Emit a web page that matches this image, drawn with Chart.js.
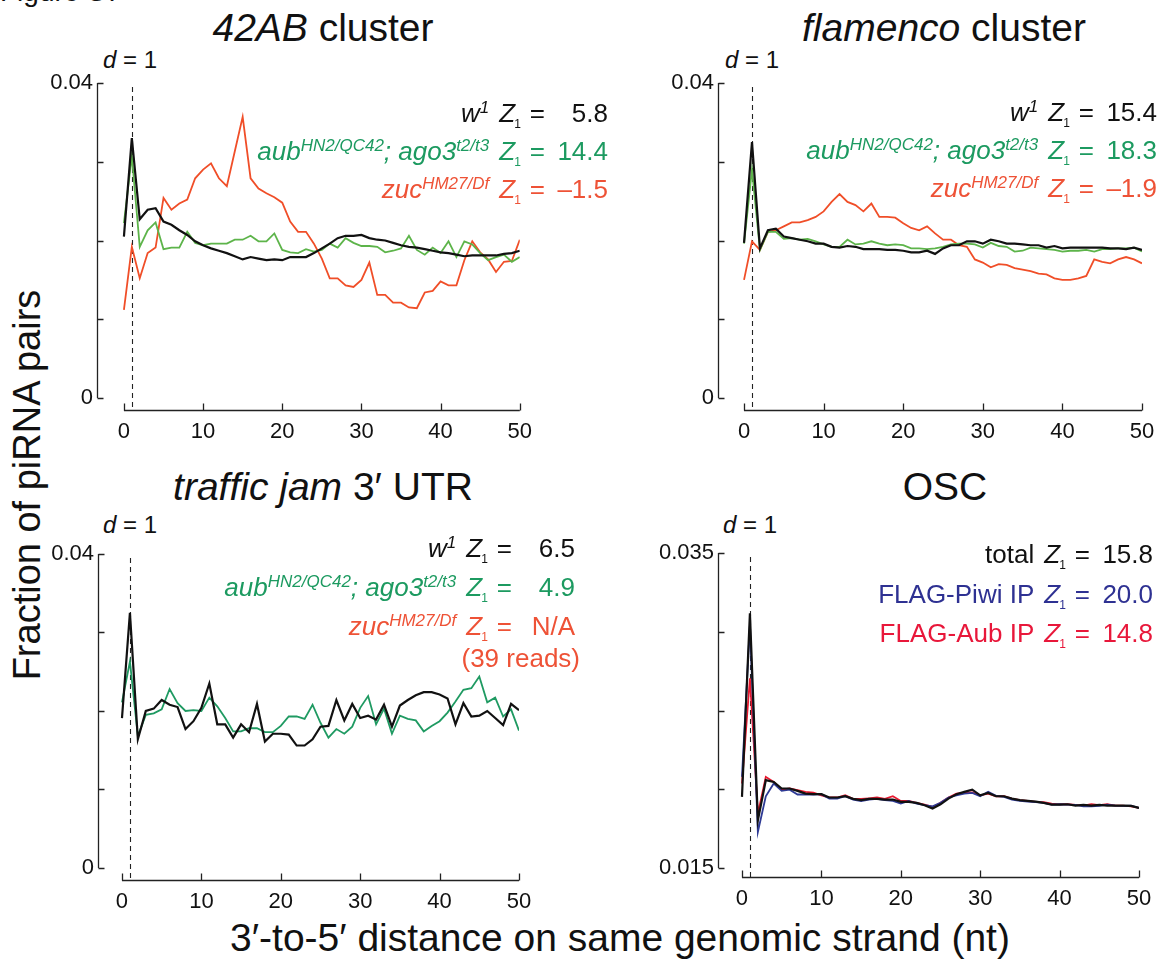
<!DOCTYPE html>
<html>
<head>
<meta charset="utf-8">
<title>piRNA phasing</title>
<script src="https://cdn.jsdelivr.net/npm/chart.js@4.4.1/dist/chart.umd.min.js"></script>
<style>
  body { margin: 0; background: #fff; width: 1163px; height: 966px; position: relative; overflow: hidden;
         font-family: 'Liberation Sans', Arial, Helvetica, sans-serif; color: #111; }
  canvas { position: absolute; }
  .txt { position: absolute; white-space: nowrap; }
  .title { font-size: 39px; line-height: 38px; width: 600px; text-align: center; }
  .dlab { font-size: 24px; line-height: 24px; width: 100px; text-align: center; }
  .row { position: absolute; display: flex; align-items: baseline; font-size: 26px; line-height: 38px; white-space: nowrap; }
  .row .z { margin-left: 10px; }
  .row .eq { margin-left: 9px; }
  .row .val { width: 63px; text-align: right; }
  sup { font-size: 17px; vertical-align: 9px; line-height: 0; }
  sub { font-size: 12px; vertical-align: -6px; line-height: 0; margin-left: -1px; }
</style>
</head>
<body>
<div class="txt" style="left:0px; top:-24px; font-size:28px;">Figure S7</div>

<div class="txt title" style="left:23px; top:9px;"><i>42AB</i> cluster</div>
<div class="txt title" style="left:644px; top:9px;"><i>flamenco</i> cluster</div>
<div class="txt title" style="left:23px; top:468px;"><i>traffic jam</i> 3&#8242; UTR</div>
<div class="txt title" style="left:645px; top:468px;">OSC</div>

<div class="txt dlab" style="left:80px; top:48px;"><i>d</i> = 1</div>
<div class="txt dlab" style="left:702px; top:48px;"><i>d</i> = 1</div>
<div class="txt dlab" style="left:80px; top:513px;"><i>d</i> = 1</div>
<div class="txt dlab" style="left:700px; top:513px;"><i>d</i> = 1</div>

<div class="txt" style="left:-273px; top:465px; width:600px; text-align:center; font-size:38px; line-height:40px; transform:rotate(-90deg);">Fraction of piRNA pairs</div>
<div class="txt" style="left:220px; top:918px; width:800px; text-align:center; font-size:39px; line-height:40px;">3&#8242;-to-5&#8242; distance on same genomic strand (nt)</div>

<canvas id="c42" width="510" height="401" style="left:30px; top:60px;"></canvas>
<canvas id="cflam" width="513" height="401" style="left:650px; top:60px;"></canvas>
<canvas id="ctj" width="510" height="401" style="left:30px; top:530px;"></canvas>
<canvas id="cosc" width="513" height="398" style="left:650px; top:530px;"></canvas>

<script>
// 3'-to-5' distance (nt)
const distance = [0, 1, 2, 3, 4, 5, 6, 7, 8, 9, 10, 11, 12, 13, 14, 15, 16, 17, 18, 19, 20,
  21, 22, 23, 24, 25, 26, 27, 28, 29, 30, 31, 32, 33, 34, 35, 36, 37, 38, 39, 40,
  41, 42, 43, 44, 45, 46, 47, 48, 49, 50];
const xTickValues = [0, 10, 20, 30, 40, 50];
const yTicksFly = [0, 0.01, 0.02, 0.03, 0.04];
const yLabelsFly = [0, 0.04];
const yTicksOsc = [0.015, 0.02, 0.025, 0.03, 0.035];
const yLabelsOsc = [0.015, 0.035];

// 42AB cluster
const ab42_w1 = [0.0205, 0.0330, 0.0227, 0.0239, 0.0241, 0.0224, 0.0220, 0.0213, 0.0207, 0.0199, 0.0194,
  0.0190, 0.0187, 0.0184, 0.0180, 0.0176, 0.0179, 0.0177, 0.0175, 0.0176, 0.0175,
  0.0179, 0.0179, 0.0179, 0.0184, 0.0190, 0.0196, 0.0203, 0.0206, 0.0206, 0.0207,
  0.0203, 0.0201, 0.0200, 0.0197, 0.0194, 0.0192, 0.0191, 0.0189, 0.0187, 0.0185,
  0.0184, 0.0182, 0.0180, 0.0181, 0.0181, 0.0181, 0.0181, 0.0183, 0.0184, 0.0187];
const ab42_aub = [0.0222, 0.0307, 0.0192, 0.0213, 0.0223, 0.0189, 0.0191, 0.0191, 0.0211, 0.0197, 0.0194,
  0.0196, 0.0196, 0.0196, 0.0201, 0.0201, 0.0206, 0.0199, 0.0199, 0.0209, 0.0188,
  0.0185, 0.0184, 0.0189, 0.0186, 0.0188, 0.0196, 0.0191, 0.0203, 0.0197, 0.0193,
  0.0193, 0.0192, 0.0185, 0.0187, 0.0190, 0.0206, 0.0188, 0.0182, 0.0191, 0.0184,
  0.0199, 0.0179, 0.0199, 0.0195, 0.0184, 0.0175, 0.0179, 0.0182, 0.0173, 0.0179];
const ab42_zuc = [0.0112, 0.0192, 0.0152, 0.0184, 0.0191, 0.0254, 0.0239, 0.0247, 0.0252, 0.0279, 0.0290,
  0.0298, 0.0279, 0.0269, 0.0313, 0.0357, 0.0279, 0.0266, 0.0260, 0.0255, 0.0248,
  0.0224, 0.0211, 0.0211, 0.0196, 0.0177, 0.0152, 0.0152, 0.0143, 0.0141, 0.0150,
  0.0172, 0.0131, 0.0131, 0.0121, 0.0121, 0.0115, 0.0114, 0.0134, 0.0136, 0.0148,
  0.0143, 0.0143, 0.0175, 0.0199, 0.0185, 0.0176, 0.0160, 0.0173, 0.0174, 0.0201];

// flamenco cluster
const flam_w1 = [0.0197, 0.0325, 0.0190, 0.0213, 0.0215, 0.0205, 0.0203, 0.0201, 0.0199, 0.0196, 0.0196,
  0.0192, 0.0191, 0.0193, 0.0192, 0.0189, 0.0189, 0.0189, 0.0188, 0.0188, 0.0187,
  0.0185, 0.0185, 0.0187, 0.0183, 0.0190, 0.0194, 0.0194, 0.0199, 0.0199, 0.0196,
  0.0201, 0.0199, 0.0196, 0.0196, 0.0195, 0.0194, 0.0194, 0.0191, 0.0193, 0.0190,
  0.0191, 0.0191, 0.0191, 0.0191, 0.0191, 0.0190, 0.0190, 0.0189, 0.0191, 0.0188];
const flam_aub = [0.0196, 0.0290, 0.0188, 0.0211, 0.0211, 0.0202, 0.0203, 0.0201, 0.0202, 0.0199, 0.0195,
  0.0192, 0.0192, 0.0201, 0.0195, 0.0196, 0.0199, 0.0196, 0.0194, 0.0195, 0.0194,
  0.0190, 0.0190, 0.0189, 0.0190, 0.0192, 0.0195, 0.0196, 0.0196, 0.0195, 0.0191,
  0.0197, 0.0193, 0.0192, 0.0186, 0.0187, 0.0191, 0.0190, 0.0189, 0.0188, 0.0186,
  0.0187, 0.0187, 0.0188, 0.0186, 0.0189, 0.0189, 0.0190, 0.0190, 0.0191, 0.0186];
const flam_zuc = [0.0150, 0.0199, 0.0188, 0.0211, 0.0213, 0.0218, 0.0223, 0.0223, 0.0226, 0.0230, 0.0237,
  0.0249, 0.0259, 0.0249, 0.0245, 0.0237, 0.0247, 0.0230, 0.0230, 0.0229, 0.0222,
  0.0216, 0.0213, 0.0218, 0.0209, 0.0201, 0.0201, 0.0194, 0.0192, 0.0176, 0.0172,
  0.0166, 0.0170, 0.0169, 0.0165, 0.0163, 0.0161, 0.0158, 0.0157, 0.0152, 0.0150,
  0.0150, 0.0152, 0.0155, 0.0176, 0.0173, 0.0171, 0.0176, 0.0179, 0.0176, 0.0171];

// traffic jam 3' UTR (zuc: N/A, 39 reads)
const tj_w1 = [0.0191, 0.0325, 0.0164, 0.0200, 0.0203, 0.0214, 0.0208, 0.0205, 0.0177, 0.0187, 0.0204,
  0.0235, 0.0183, 0.0183, 0.0166, 0.0183, 0.0173, 0.0209, 0.0161, 0.0171, 0.0171,
  0.0170, 0.0156, 0.0156, 0.0164, 0.0180, 0.0181, 0.0214, 0.0188, 0.0209, 0.0191,
  0.0194, 0.0189, 0.0208, 0.0180, 0.0207, 0.0214, 0.0220, 0.0224, 0.0224, 0.0221,
  0.0216, 0.0183, 0.0210, 0.0193, 0.0194, 0.0200, 0.0191, 0.0182, 0.0209, 0.0201];
const tj_aub = [0.0211, 0.0263, 0.0168, 0.0195, 0.0197, 0.0202, 0.0228, 0.0210, 0.0200, 0.0201, 0.0200,
  0.0217, 0.0206, 0.0191, 0.0174, 0.0174, 0.0178, 0.0178, 0.0173, 0.0173, 0.0181,
  0.0193, 0.0193, 0.0190, 0.0208, 0.0185, 0.0166, 0.0177, 0.0171, 0.0180, 0.0204,
  0.0219, 0.0183, 0.0203, 0.0171, 0.0194, 0.0190, 0.0188, 0.0174, 0.0181, 0.0187,
  0.0198, 0.0212, 0.0227, 0.0229, 0.0244, 0.0211, 0.0217, 0.0193, 0.0202, 0.0175];

// OSC
const osc_total = [0.01952, 0.03118, 0.01803, 0.02058, 0.02047, 0.02005, 0.02005, 0.01990, 0.01973, 0.01969, 0.01969,
  0.01948, 0.01948, 0.01956, 0.01939, 0.01931, 0.01939, 0.01939, 0.01935, 0.01935, 0.01920,
  0.01920, 0.01914, 0.01899, 0.01878, 0.01905, 0.01941, 0.01969, 0.01984, 0.01998, 0.01962,
  0.01977, 0.01956, 0.01956, 0.01941, 0.01931, 0.01926, 0.01922, 0.01914, 0.01903, 0.01903,
  0.01905, 0.01897, 0.01901, 0.01897, 0.01901, 0.01897, 0.01897, 0.01897, 0.01895, 0.01882];
const osc_piwi = [0.02079, 0.03044, 0.01729, 0.01956, 0.02037, 0.01990, 0.01998, 0.01967, 0.01967, 0.01967, 0.01969,
  0.01941, 0.01941, 0.01956, 0.01935, 0.01926, 0.01935, 0.01939, 0.01931, 0.01926, 0.01909,
  0.01926, 0.01909, 0.01899, 0.01892, 0.01914, 0.01948, 0.01962, 0.01973, 0.01977, 0.01956,
  0.01984, 0.01958, 0.01952, 0.01935, 0.01926, 0.01922, 0.01918, 0.01914, 0.01903, 0.01905,
  0.01903, 0.01901, 0.01892, 0.01892, 0.01895, 0.01903, 0.01897, 0.01895, 0.01897, 0.01882];
const osc_aub = [0.02037, 0.02705, 0.01846, 0.02079, 0.02047, 0.01998, 0.02005, 0.01994, 0.01984, 0.01979, 0.01962,
  0.01948, 0.01948, 0.01962, 0.01939, 0.01939, 0.01943, 0.01948, 0.01939, 0.01956, 0.01926,
  0.01926, 0.01914, 0.01903, 0.01888, 0.01914, 0.01948, 0.01973, 0.01979, 0.01981, 0.01962,
  0.01973, 0.01956, 0.01956, 0.01941, 0.01931, 0.01926, 0.01920, 0.01918, 0.01909, 0.01905,
  0.01905, 0.01901, 0.01897, 0.01905, 0.01899, 0.01905, 0.01897, 0.01897, 0.01892, 0.01882];

const BLACK = '#111111';
const GREEN_LIGHT = '#5db44a';
const GREEN_TEAL = '#1f9a62';
const ORANGE = '#f04e28';
const NAVY = '#2e3a94';
const CRIMSON = '#e8192f';

const TICK_FONT = "'Liberation Sans Narrow', 'Liberation Sans', Arial, sans-serif";

// range-frame axes with inward ticks, plus the dashed d = 1 marker
const rangeFrame = {
  id: 'rangeFrame',
  beforeDatasetsDraw(chart, args, opts) {
    const { ctx, scales: { x, y }, chartArea } = chart;
    const dx = Math.round(x.getPixelForValue(opts.marker)) + 0.5;
    ctx.save();
    ctx.strokeStyle = '#222';
    ctx.lineWidth = 1.1;
    ctx.setLineDash([5, 4]);
    ctx.beginPath();
    ctx.moveTo(dx, y.getPixelForValue(opts.yTicks[opts.yTicks.length - 1]) + 4);
    ctx.lineTo(dx, chartArea.bottom);
    ctx.stroke();
    ctx.restore();
  },
  afterDraw(chart, args, opts) {
    const { ctx, scales: { x, y }, chartArea } = chart;
    const ax = chartArea.left + 0.5;
    const ay = chartArea.bottom - 0.5;
    const yT = opts.yTicks, xT = opts.xTicks;
    ctx.save();
    ctx.strokeStyle = '#222';
    ctx.lineWidth = 1.3;
    ctx.beginPath();
    ctx.moveTo(ax, y.getPixelForValue(yT[yT.length - 1]));
    ctx.lineTo(ax, y.getPixelForValue(yT[0]));
    yT.forEach(v => {
      const py = Math.round(y.getPixelForValue(v)) + 0.5;
      ctx.moveTo(ax, py);
      ctx.lineTo(ax + 6, py);
    });
    ctx.moveTo(x.getPixelForValue(xT[0]), ay);
    ctx.lineTo(x.getPixelForValue(xT[xT.length - 1]), ay);
    xT.forEach(v => {
      const px = Math.round(x.getPixelForValue(v)) + 0.5;
      ctx.moveTo(px, ay);
      ctx.lineTo(px, ay - 7);
    });
    ctx.stroke();
    ctx.restore();
  }
};

function makePanel(id, series, cfg) {
  const datasets = series.map(s => ({
    data: distance.map((d, i) => ({ x: d, y: s.values[i] })),
    borderColor: s.color,
    borderWidth: s.width,
    pointRadius: 0,
    tension: 0,
    fill: false
  }));
  return new Chart(document.getElementById(id), {
    type: 'line',
    data: { datasets: datasets },
    options: {
      responsive: false,
      animation: false,
      events: [],
      layout: { padding: { top: cfg.padTop, right: cfg.padRight, left: 0, bottom: 0 } },
      plugins: {
        legend: { display: false },
        tooltip: { enabled: false },
        rangeFrame: { marker: 1, xTicks: xTickValues, yTicks: cfg.yTicks }
      },
      scales: {
        x: {
          type: 'linear',
          min: cfg.xMin,
          max: 50,
          afterBuildTicks: s => { s.ticks = xTickValues.map(v => ({ value: v })); },
          afterFit: s => { s.height = 50; },
          grid: { display: false, drawTicks: false },
          border: { display: false },
          ticks: { color: '#111', padding: 8, maxRotation: 0, font: { family: TICK_FONT, size: 22 } }
        },
        y: {
          min: cfg.yMin,
          max: cfg.yMax,
          afterBuildTicks: s => { s.ticks = cfg.yLabels.map(v => ({ value: v })); },
          afterFit: s => { s.width = cfg.yWidth; },
          grid: { display: false, drawTicks: false },
          border: { display: false },
          ticks: { color: '#111', padding: 4, font: { family: TICK_FONT, size: 22 },
                   callback: v => String(v) }
        }
      }
    },
    plugins: [rangeFrame]
  });
}

makePanel('c42', [
  { values: ab42_w1, color: BLACK, width: 2.2 },
  { values: ab42_aub, color: GREEN_LIGHT, width: 1.8 },
  { values: ab42_zuc, color: ORANGE, width: 1.8 }
], { xMin: -3.40, yMin: -0.00165, yMax: 0.04, yTicks: yTicksFly, yLabels: yLabelsFly, yWidth: 67, padTop: 23, padRight: 19 });

makePanel('cflam', [
  { values: flam_w1, color: BLACK, width: 2.2 },
  { values: flam_aub, color: GREEN_LIGHT, width: 1.8 },
  { values: flam_zuc, color: ORANGE, width: 1.8 }
], { xMin: -3.27, yMin: -0.00165, yMax: 0.04, yTicks: yTicksFly, yLabels: yLabelsFly, yWidth: 68, padTop: 23, padRight: 21 });

makePanel('ctj', [
  { values: tj_w1, color: BLACK, width: 2.2 },
  { values: tj_aub, color: GREEN_TEAL, width: 1.8 }
], { xMin: -3.02, yMin: -0.00166, yMax: 0.04, yTicks: yTicksFly, yLabels: yLabelsFly, yWidth: 68, padTop: 24, padRight: 21 });

makePanel('cosc', [
  { values: osc_total, color: BLACK, width: 2.2 },
  { values: osc_piwi, color: NAVY, width: 1.8 },
  { values: osc_aub, color: CRIMSON, width: 1.8 }
], { xMin: -3.02, yMin: 0.01437, yMax: 0.035, yTicks: yTicksOsc, yLabels: yLabelsOsc, yWidth: 68, padTop: 23, padRight: 24 });

// Z-score annotations, right aligned in columns
function addRow(rightX, baseline, color, nameHtml, value) {
  const row = document.createElement('div');
  row.className = 'row';
  row.style.right = (1163 - rightX) + 'px';
  row.style.top = (baseline - 28.3) + 'px';
  row.style.color = color;
  row.innerHTML = '<span class="nm">' + nameHtml + '</span>' +
    '<span class="z"><i>Z</i><sub>1</sub></span>' +
    '<span class="eq">=</span>' +
    '<span class="val">' + value + '</span>';
  document.body.appendChild(row);
}

const W1 = '<i>w<sup>1</sup></i>';
const AUB = '<i>aub<sup>HN2/QC42</sup>; ago3<sup>t2/t3</sup></i>';
const ZUC = '<i>zuc<sup>HM27/Df</sup></i>';
const GREEN_TXT = '#1c9a60';
const RED_TXT = '#ee5236';

addRow(608, 122, BLACK, W1, '5.8');
addRow(608, 160, GREEN_TXT, AUB, '14.4');
addRow(608, 198, RED_TXT, ZUC, '&#8211;1.5');

addRow(1157, 121, BLACK, W1, '15.4');
addRow(1157, 159, GREEN_TXT, AUB, '18.3');
addRow(1157, 197, RED_TXT, ZUC, '&#8211;1.9');

addRow(575, 557, BLACK, W1, '6.5');
addRow(575, 596, GREEN_TXT, AUB, '4.9');
addRow(575, 635, RED_TXT, ZUC, 'N/A');
const reads = document.createElement('div');
reads.className = 'row';
reads.style.right = (1163 - 580) + 'px';
reads.style.top = (667 - 28.3) + 'px';
reads.style.color = RED_TXT;
reads.textContent = '(39 reads)';
document.body.appendChild(reads);

addRow(1153, 563, BLACK, 'total', '15.8');
addRow(1153, 603, '#2e3192', 'FLAG-Piwi IP', '20.0');
addRow(1153, 642, '#e8173a', 'FLAG-Aub IP', '14.8');
</script>
</body>
</html>
